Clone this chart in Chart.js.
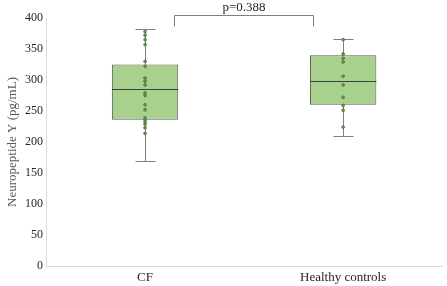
<!DOCTYPE html>
<html>
<head>
<meta charset="utf-8">
<script src="https://cdn.jsdelivr.net/npm/chart.js@4"></script>
<style>
  html, body { margin: 0; padding: 0; background: #fff; }
  #wrap { width: 447px; height: 286px; position: relative; }
</style>
</head>
<body>
<div id="wrap"><canvas id="npyChart"></canvas></div>
<script>
// categories and box statistics (pg/mL)
const groups = ['CF', 'Healthy controls'];
const whiskerMin = [169, 209];
const q1 = [236, 260];
const median = [286, 299];
const q3 = [325, 340];
const whiskerMax = [382, 366];

// individual observations
const cfPoints = [378, 372, 365, 357, 330, 322, 303, 298, 292, 279, 275, 260, 252, 239, 236, 233, 229, 223, 214];
const hcPoints = [365, 342, 335, 329, 306, 292, 272, 259, 251, 224];

const yTicks = [0, 50, 100, 150, 200, 250, 300, 350, 400];
const pLabel = 'p=0.388';

const serif = "'Liberation Serif', 'Times New Roman', serif";
const axisColor = '#d9d9d9';
const textColor = '#595959';

// whiskers, median lines and significance bracket
const boxExtras = {
    id: 'boxExtras',
    beforeDatasetsDraw(chart) {
        const ctx = chart.ctx;
        const x = chart.scales.x;
        const y = chart.scales.y;
        ctx.save();
        ctx.strokeStyle = '#7f7f7f';
        ctx.lineWidth = 1;
        groups.forEach((g, i) => {
            const px = Math.round(x.getPixelForValue(i)) + 0.5;
            ctx.beginPath();
            ctx.moveTo(px, y.getPixelForValue(whiskerMax[i]));
            ctx.lineTo(px, y.getPixelForValue(q3[i]));
            ctx.moveTo(px, y.getPixelForValue(q1[i]));
            ctx.lineTo(px, y.getPixelForValue(whiskerMin[i]));
            const top = Math.round(y.getPixelForValue(whiskerMax[i])) + 0.5;
            const bot = Math.round(y.getPixelForValue(whiskerMin[i])) + 0.5;
            ctx.moveTo(px - 10, top);
            ctx.lineTo(px + 10, top);
            ctx.moveTo(px - 10, bot);
            ctx.lineTo(px + 10, bot);
            ctx.stroke();
        });
        ctx.restore();
    },
    afterDatasetDraw(chart, args) {
        if (args.index !== 0) return;
        const ctx = chart.ctx;
        const y = chart.scales.y;
        const meta = chart.getDatasetMeta(0);
        ctx.save();
        ctx.strokeStyle = '#404040';
        ctx.lineWidth = 1;
        meta.data.forEach((bar, i) => {
            const py = Math.round(y.getPixelForValue(median[i])) + 0.5;
            ctx.beginPath();
            ctx.moveTo(bar.x - bar.width / 2, py);
            ctx.lineTo(bar.x + bar.width / 2, py);
            ctx.stroke();
        });
        ctx.restore();
    },
    afterDraw(chart) {
        const ctx = chart.ctx;
        const x = chart.scales.x;
        const y = chart.scales.y;
        const band = x.getPixelForValue(1) - x.getPixelForValue(0);
        const left = Math.round(x.getPixelForValue(0) + band * 0.145) + 0.5;
        const right = Math.round(x.getPixelForValue(1) - band * 0.15) + 0.5;
        const top = Math.round(y.getPixelForValue(405)) + 0.5;
        const legBottom = top + 11;
        ctx.save();
        ctx.strokeStyle = '#7f7f7f';
        ctx.lineWidth = 1;
        ctx.beginPath();
        ctx.moveTo(left, legBottom);
        ctx.lineTo(left, top);
        ctx.lineTo(right, top);
        ctx.lineTo(right, legBottom);
        ctx.stroke();
        ctx.fillStyle = '#262626';
        ctx.font = '13px ' + serif;
        ctx.textAlign = 'center';
        ctx.textBaseline = 'bottom';
        ctx.fillText(pLabel, (left + right) / 2, top - 1);
        ctx.restore();
    }
};

const ctx = document.getElementById('npyChart').getContext('2d');

const pointStyle = {
    type: 'line',
    showLine: false,
    pointRadius: 1.4,
    pointBackgroundColor: '#6a9a48',
    pointBorderColor: '#4e6e38',
    pointBorderWidth: 0.8,
    order: 1
};

new Chart(ctx, {
    data: {
        labels: groups,
        datasets: [
            {
                type: 'bar',
                data: groups.map((g, i) => [q1[i], q3[i]]),
                backgroundColor: '#a9d18e',
                borderColor: '#595959',
                borderWidth: 1,
                borderSkipped: false,
                grouped: false,
                categoryPercentage: 1,
                barPercentage: 0.335,
                order: 2
            },
            Object.assign({ data: cfPoints.map(v => ({ x: 'CF', y: v })) }, pointStyle),
            Object.assign({ data: hcPoints.map(v => ({ x: 'Healthy controls', y: v })) }, pointStyle)
        ]
    },
    options: {
        responsive: true,
        maintainAspectRatio: false,
        animation: false,
        layout: { padding: { top: 18, right: 2, left: 6, bottom: -3 } },
        plugins: {
            legend: { display: false },
            tooltip: { enabled: false }
        },
        scales: {
            x: {
                type: 'category',
                offset: true,
                grid: { display: false, drawTicks: false },
                border: { color: axisColor, width: 1 },
                ticks: {
                    color: '#262626',
                    padding: 5,
                    font: { family: serif, size: 13, lineHeight: 1 }
                }
            },
            y: {
                min: 0,
                max: 400,
                afterBuildTicks: axis => { axis.ticks = yTicks.map(v => ({ value: v })); },
                grid: { display: false, drawTicks: false },
                border: { color: axisColor, width: 1 },
                ticks: {
                    color: '#262626',
                    padding: 3,
                    font: { family: serif, size: 12 }
                },
                title: {
                    display: true,
                    text: 'Neuropeptide Y (pg/mL)',
                    color: textColor,
                    padding: { top: 0, bottom: 3 },
                    font: { family: serif, size: 13, lineHeight: 1 }
                }
            }
        }
    },
    plugins: [boxExtras]
});
</script>
</body>
</html>
